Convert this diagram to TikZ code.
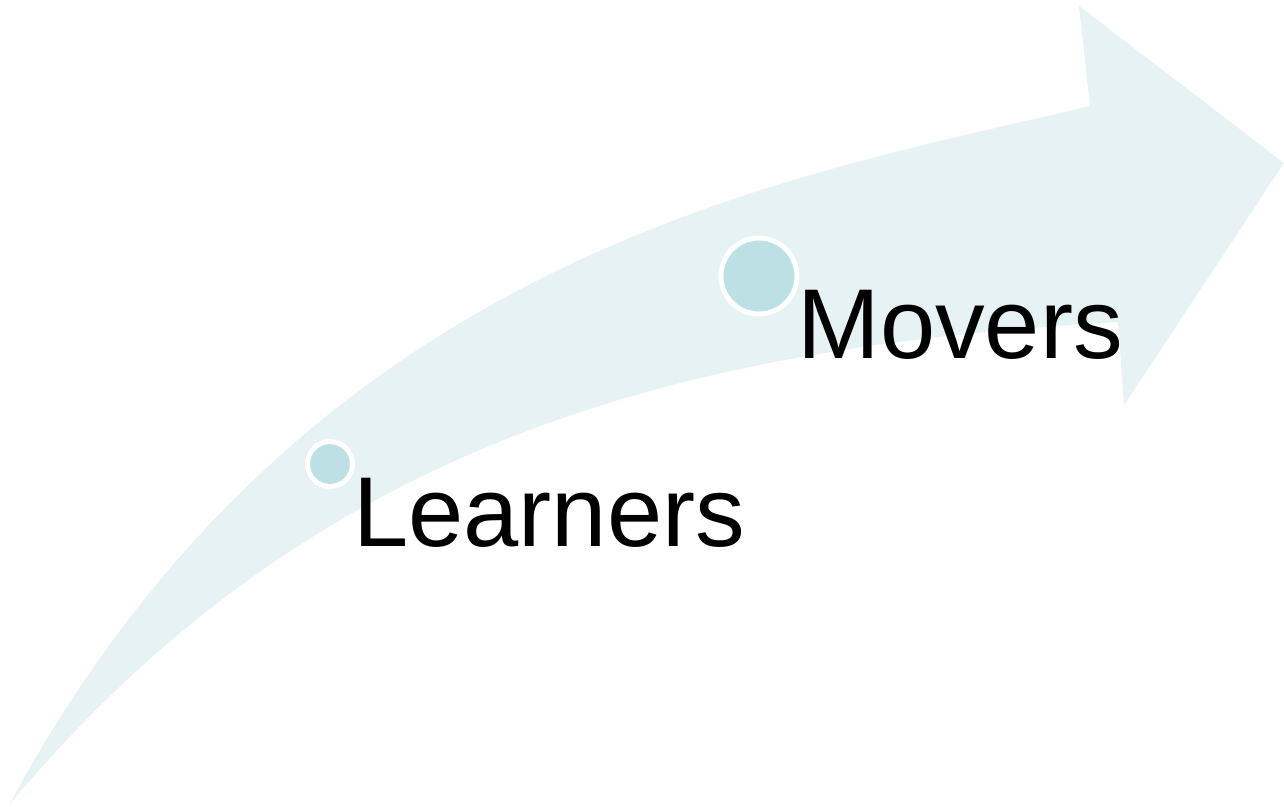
\documentclass[tikz,border=0pt]{standalone}
\usepackage{fontspec}
\setmainfont{Liberation Sans}
\usetikzlibrary{positioning}

\definecolor{arrowfill}{HTML}{E6F2F4}
\definecolor{dotfill}{HTML}{BCE0E3}

\begin{document}
\begin{tikzpicture}[
  x=0.02cm, y=-0.02cm,
  dot/.style={circle, fill=dotfill, draw=white, line width=0.1cm, inner sep=0pt},
  label/.style={anchor=base west, inner sep=0pt, font=\fontsize{56.5}{60}\selectfont}
]
\useasboundingbox (0,0) rectangle (1284,806);

% curved arrow: upper edge, head, lower edge back to the tail
\fill[arrowfill] (9,805) .. controls (309,250) and (790,178) .. (1090,106)
  -- (1079,6) -- (1284,163) -- (1124,405) -- (1118,322)
  .. controls (718,346) and (329,421) .. cycle;

\node[dot, minimum size=1.52cm] (moversdot) at (759,276) {};
\node[dot, minimum size=0.9cm] (learnersdot) at (330,464) {};

\node[label] (movers) at (797,358) {Movers};
\node[label] (learners) at (353,546) {Learners};

\end{tikzpicture}
\end{document}
